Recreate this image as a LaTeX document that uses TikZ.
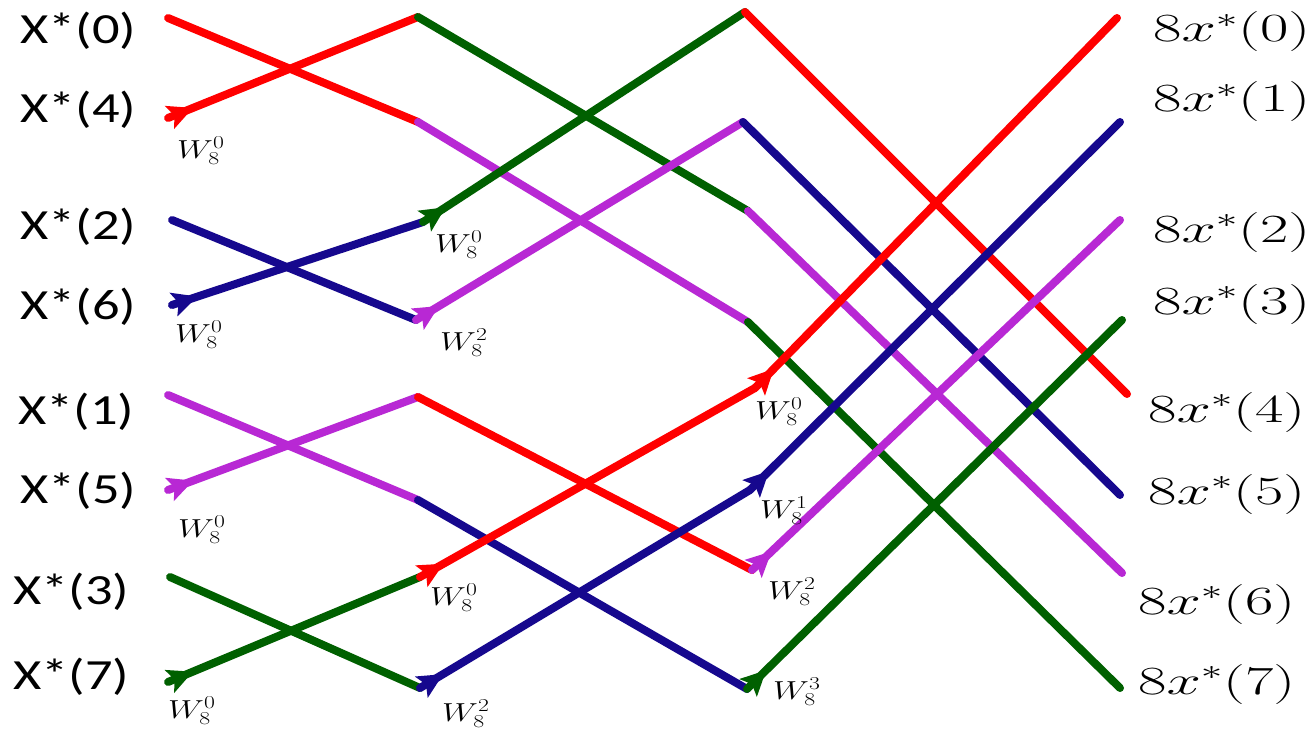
\RequirePackage{fix-cm}
\documentclass[tikz,border=0pt]{standalone}
\usepackage{fontspec}
\usepackage{graphicx}
\newfontfamily\calfont{Carlito}
\usetikzlibrary{decorations.markings,arrows.meta}
\definecolor{cR}{RGB}{255,0,0}
\definecolor{cG}{RGB}{0,96,0}
\definecolor{cB}{RGB}{22,8,142}
\definecolor{cM}{RGB}{184,40,212}
\newcommand\LX[1]{\resizebox{116pt}{\height}{\calfont\fontsize{43}{43}\selectfont X*(#1)}}
\newcommand\RX[1]{\resizebox{157pt}{\height}{\fontsize{40}{40}\selectfont$8x^*(#1)$}}
\newcommand\WL[1]{\scalebox{1.3}[1]{\fontsize{26}{26}\selectfont$W_8^{#1}$}}
\begin{document}
\begin{tikzpicture}[x=1pt,y=-1pt,
  wire/.style={line width=8pt,line cap=round},
  arr/.style={postaction={decorate,decoration={markings,
     mark=at position 27pt with {\arrow{Stealth[length=25pt,width=24pt,inset=5pt]}}}}},
  lab/.style={inner sep=0pt,anchor=base west,text=black}]
\fill[white] (0,0) rectangle (1316,733);
\useasboundingbox (0,0) rectangle (1316,733);
% column 0
\coordinate (c0r0) at (168,18);
\coordinate (c0r1) at (168,118);
\coordinate (c0r2) at (172,220);
\coordinate (c0r3) at (172,305);
\coordinate (c0r4) at (168,395);
\coordinate (c0r5) at (168,490);
\coordinate (c0r6) at (170,577);
\coordinate (c0r7) at (168,682);
% column 1
\coordinate (c1r0) at (418,17);
\coordinate (c1r1) at (418,122);
\coordinate (c1r2) at (423,222);
\coordinate (c1r3) at (416,320);
\coordinate (c1r4) at (418,397);
\coordinate (c1r5) at (418,500);
\coordinate (c1r6) at (420,577);
\coordinate (c1r7) at (420,688);
% column 2
\coordinate (c2r0) at (745,12);
\coordinate (c2r1) at (743,122);
\coordinate (c2r2) at (748,211);
\coordinate (c2r3) at (748,322);
\coordinate (c2r4) at (755,388);
\coordinate (c2r5) at (750,490);
\coordinate (c2r6) at (752,570);
\coordinate (c2r7) at (747,689);
% column 3
\coordinate (c3r0) at (1117,18);
\coordinate (c3r1) at (1120,122);
\coordinate (c3r2) at (1120,220);
\coordinate (c3r3) at (1122,320);
\coordinate (c3r4) at (1127,394);
\coordinate (c3r5) at (1120,495);
\coordinate (c3r6) at (1122,573);
\coordinate (c3r7) at (1120,688);
% stage 1
\draw[wire,cR] (c0r0) -- (c1r1);
\draw[wire,cR,arr] (c0r1) -- (c1r0);
\draw[wire,cB] (c0r2) -- (c1r3);
\draw[wire,cB,arr] (c0r3) -- (c1r2);
\draw[wire,cM] (c0r4) -- (c1r5);
\draw[wire,cM,arr] (c0r5) -- (c1r4);
\draw[wire,cG] (c0r6) -- (c1r7);
\draw[wire,cG,arr] (c0r7) -- (c1r6);
% stage 2
\draw[wire,cG] (c1r0) -- (c2r2);
\draw[wire,cM] (c1r1) -- (c2r3);
\draw[wire,cG,arr] (c1r2) -- (c2r0);
\draw[wire,cM,arr] (c1r3) -- (c2r1);
\draw[wire,cR] (c1r4) -- (c2r6);
\draw[wire,cB] (c1r5) -- (c2r7);
\draw[wire,cR,arr] (c1r6) -- (c2r4);
\draw[wire,cB,arr] (c1r7) -- (c2r5);
% stage 3
\draw[wire,cR] (c2r0) -- (c3r4);
\draw[wire,cB] (c2r1) -- (c3r5);
\draw[wire,cM] (c2r2) -- (c3r6);
\draw[wire,cG] (c2r3) -- (c3r7);
\draw[wire,cR,arr] (c2r4) -- (c3r0);
\draw[wire,cB,arr] (c2r5) -- (c3r1);
\draw[wire,cM,arr] (c2r6) -- (c3r2);
\draw[wire,cG,arr] (c2r7) -- (c3r3);
% input labels
\node[lab] (in0) at (20,44) {\LX{0}};
\node[lab] (in4) at (20,123) {\LX{4}};
\node[lab] (in2) at (20,239) {\LX{2}};
\node[lab] (in6) at (20,319) {\LX{6}};
\node[lab] (in1) at (18,424) {\LX{1}};
\node[lab] (in5) at (20,503) {\LX{5}};
\node[lab] (in3) at (13,604) {\LX{3}};
\node[lab] (in7) at (13,689) {\LX{7}};
% output labels
\node[lab] (out0) at (1153,42) {\RX{0}};
\node[lab] (out1) at (1153,112) {\RX{1}};
\node[lab] (out2) at (1153,242) {\RX{2}};
\node[lab] (out3) at (1153,314) {\RX{3}};
\node[lab] (out4) at (1148,422) {\RX{4}};
\node[lab] (out5) at (1148,504) {\RX{5}};
\node[lab] (out6) at (1138,614) {\RX{6}};
\node[lab] (out7) at (1138,694) {\RX{7}};
% twiddle labels
\node[lab] (w01) at (177,158) {\WL{0}};
\node[lab] (w03) at (175,342) {\WL{0}};
\node[lab] (w05) at (178,537) {\WL{0}};
\node[lab] (w07) at (168,718) {\WL{0}};
\node[lab] (w12) at (435,252) {\WL{0}};
\node[lab] (w13) at (440,350) {\WL{2}};
\node[lab] (w16) at (430,605) {\WL{0}};
\node[lab] (w17) at (442,721) {\WL{2}};
\node[lab] (w24) at (755,419) {\WL{0}};
\node[lab] (w25) at (760,518) {\WL{1}};
\node[lab] (w26) at (768,599) {\WL{2}};
\node[lab] (w27) at (773,699) {\WL{3}};
\end{tikzpicture}
\end{document}
